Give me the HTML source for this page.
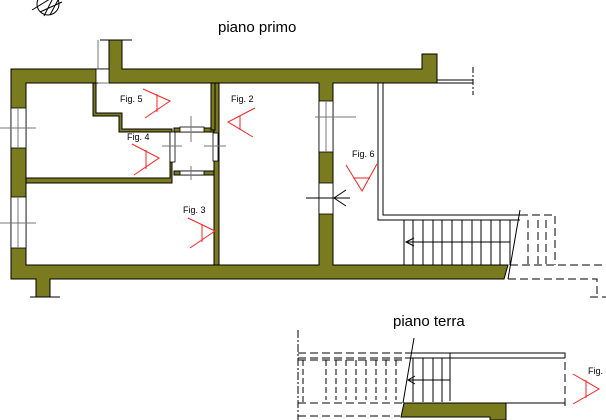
<!DOCTYPE html>
<html><head><style>
html,body{margin:0;padding:0;background:#fff;}
svg{display:block;}
text{font-family:"Liberation Sans",sans-serif;}
</style></head><body>
<svg width="606" height="420" viewBox="0 0 606 420" xmlns="http://www.w3.org/2000/svg">
<g fill="none" stroke="#000" stroke-width="1">
<!-- compass -->
<circle cx="48" cy="4" r="11"/>
<path d="M32 10 L58 -6 M44 16 L54 -4 M50 15 L58 0 M40 12 L62 2"/>
</g>
<text x="218" y="32" font-size="15">piano primo</text>
<text x="393" y="326" font-size="15">piano terra</text>

<g fill="#7a7a1e" stroke="#000" stroke-width="1">
<!-- outer walls -->
<path d="M11 69 H109 V40 H122 V69 H422 V54 H437 V83 H333 V265 H508 L504 279 H50 V297 H36 V279 H11 Z M26 83 V265 H319 V83 H26 Z" fill-rule="evenodd"/>
<!-- partition -->
<rect x="214" y="83" width="5" height="182"/>
<!-- fig5 room walls -->
<path d="M96 83 V113 H122 V129 H172 V183 H26 V178 H170 V132 H119 V116 H93 V83 Z"/>
<path d="M174 128 H214 V132 H174 Z"/>
<path d="M174 171 H214 V175 H174 Z"/>
<path d="M211 83 H215 V130 H211 Z"/>
<!-- piano terra block -->
<path d="M404 403 H506 V420 H490 V417 H401 Z"/>
</g>
<!-- windows (white cut-outs) -->
<g fill="#fff" stroke="#000" stroke-width="0.8">
<rect x="11" y="108" width="15" height="40"/>
<rect x="11" y="197" width="15" height="51"/>
<rect x="319" y="101" width="14" height="51"/>
<rect x="319" y="183" width="14" height="31"/>
<rect x="96" y="69" width="13" height="14"/>
<rect x="180" y="127" width="24" height="5"/>
<rect x="180" y="171" width="24" height="4"/>
<rect x="170" y="132" width="5" height="30"/>
<rect x="213" y="133" width="5" height="28"/>
</g>
<g stroke="#777" stroke-width="1" fill="none">
<path d="M0 128 H36 M0 223 H36 M315 117 H356 M98 69 V40 M98 83 H109 M18 108 V148 M18 197 V248 M326 101 V152"/>
<path d="M191 116 V142 M191 166 V180 M162 146 H182 M204 146 H226"/>
</g>
<g stroke="#000" stroke-width="1" fill="none">
<path d="M100 40 H132 M30 297 H60"/>
<path d="M306 198 H350 M346 190 L334 198 L346 206"/>
<!-- stair right side -->
<path d="M378 83 V220 H520 M383 83 V215 H520"/>
<path d="M437 80 H473 M437 83 H473"/>
<path d="M473 67 V95" stroke-dasharray="6,2,2,2"/>
<path d="M404 220 V265 M413 220 V265 M423 220 V265 M433 220 V265 M442 220 V265 M452 220 V265 M462 220 V265 M472 220 V265 M481 220 V265 M491 220 V265 M500 220 V265 M510 220 V265"/>
<path d="M406 242 H510 M414 238 L406 242 L414 246"/>
<path d="M508 279 L520 210"/>
<path d="M520 215 H555 V265 M528 220 V265 M538 220 V265 M546 220 V265 M510 265 H606 M508 279 H597 V297 M590 297 H606" stroke-dasharray="8,4"/>
<!-- piano terra -->
<path d="M298 330 V420" stroke-dasharray="8,2,2,2"/>
<path d="M298 353 H565 V407 M298 358 H565 M298 360 H405 M298 403 H404 M298 416 H400" stroke-dasharray="8,4"/>
<path d="M405 358 H565 M405 353 H565 M450 353 V401 M413 358 V402 M423 358 V402 M433 358 V402 M442 358 V402 M408 380 H450 M415 376 L408 380 L415 384 M506 403 H565"/>
<path d="M326 360 V400 M336 360 V400 M346 360 V400 M356 360 V400 M366 360 V400 M376 360 V400 M386 360 V400 M396 360 V400 M303 360 V403" stroke-dasharray="6,3"/>
<path d="M403 403 L414 338"/>
</g>
<!-- fig labels -->
<g font-size="9" fill="#000">
<text x="120" y="102">Fig. 5</text>
<text x="231" y="102">Fig. 2</text>
<text x="127" y="140">Fig. 4</text>
<text x="183" y="213">Fig. 3</text>
<text x="352" y="157">Fig. 6</text>
<text x="588" y="374">Fig.</text>
</g>
<g stroke="#ff2020" stroke-width="1" fill="none">
<path d="M143 89 L170 101 L145 118 M157 94 V112"/>
<path d="M255 108 L228 122 L253 137 M240 116 V130"/>
<path d="M132 144 L159 158 L134 175 M146 150 V169"/>
<path d="M188 218 L215 231 L190 248 M202 224 V242"/>
<path d="M346 165 L362 191 L377 164 M354 178 H370"/>
<path d="M573 374 L599 389 L573 404 M586 380 V398"/>
</g>
</svg>
</body></html>
